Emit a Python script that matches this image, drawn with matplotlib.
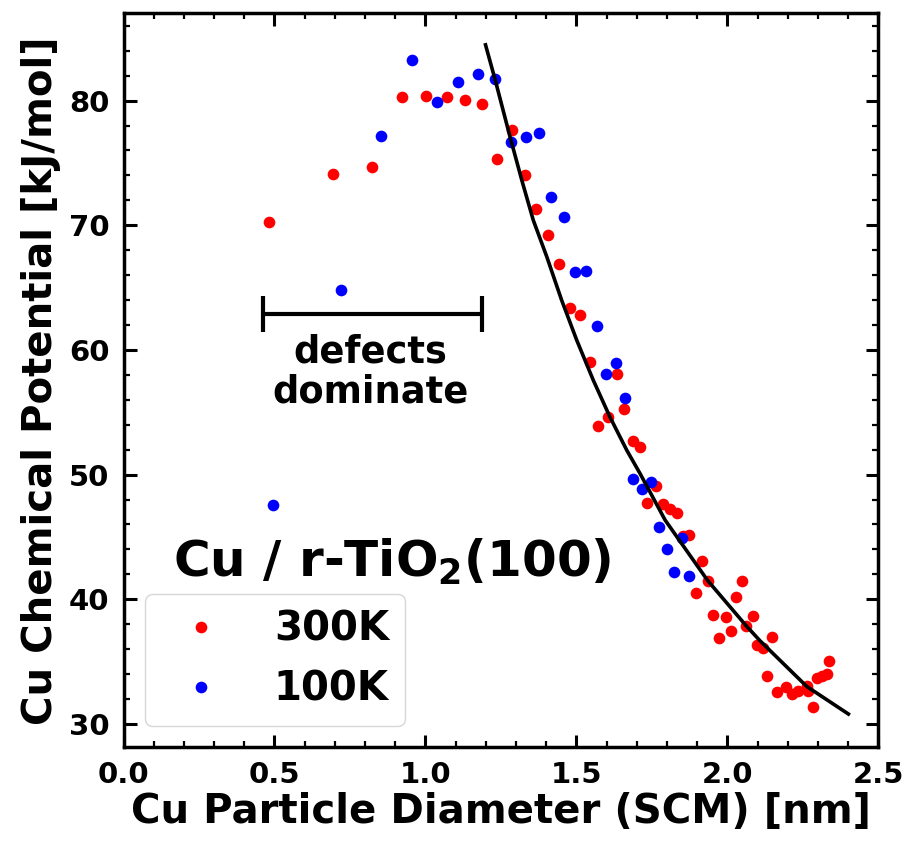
import matplotlib
matplotlib.use('Agg')
import matplotlib.pyplot as plt
from matplotlib.ticker import MultipleLocator

# Cu particle diameter [nm] / chemical potential [kJ/mol], 300K run
d300 = [0.483, 0.695, 0.824, 0.921, 1.002, 1.072, 1.132, 1.188, 1.286, 1.237,
        1.330, 1.366, 1.407, 1.444, 1.479, 1.512, 1.545, 1.634, 1.659, 1.606,
        1.573, 1.687, 1.712, 1.763, 1.733, 1.786, 1.810, 1.832, 1.854, 1.874,
        1.915, 1.935, 1.895, 2.050, 2.029, 1.954, 1.995, 2.084, 2.062, 2.011,
        1.974, 2.149, 2.097, 2.117, 2.130, 2.164, 2.193, 2.213, 2.235, 2.263,
        2.268, 2.285, 2.296, 2.313, 2.329, 2.338]
mu300 = [70.23, 74.11, 74.67, 80.32, 80.40, 80.27, 80.03, 79.71, 77.65, 75.29,
         74.01, 71.33, 69.24, 66.88, 63.33, 62.79, 59.04, 58.10, 55.29, 54.62,
         53.90, 52.67, 52.21, 49.08, 47.71, 47.61, 47.26, 46.96, 45.11, 45.17,
         43.11, 41.50, 40.48, 41.50, 40.22, 38.77, 38.55, 38.63, 37.89, 37.49,
         36.87, 36.95, 36.36, 36.10, 33.87, 32.53, 32.93, 32.40, 32.67, 33.01,
         32.67, 31.33, 33.65, 33.85, 34.01, 35.08]

# 100K run
d100 = [0.495, 0.720, 0.853, 0.955, 1.038, 1.109, 1.173, 1.231, 1.283, 1.332,
        1.375, 1.417, 1.458, 1.496, 1.532, 1.567, 1.631, 1.598, 1.661, 1.689,
        1.716, 1.747, 1.773, 1.799, 1.851, 1.823, 1.873]
mu100 = [47.6, 64.82, 77.14, 83.27, 79.87, 81.45, 82.17, 81.74, 76.66, 77.06,
         77.38, 72.24, 70.68, 66.22, 66.32, 61.93, 58.93, 58.05, 56.14, 49.61,
         48.81, 49.40, 45.81, 44.05, 44.93, 42.22, 41.90]

# fit line, points
fit_d = [1.199, 1.231, 1.280, 1.319, 1.357, 1.402, 1.451, 1.501, 1.556, 1.611,
         1.667, 1.711, 1.794, 1.935, 2.062, 2.108, 2.263, 2.401]
fit_mu = [84.47, 81.66, 77.11, 73.63, 70.42, 67.47, 64.00, 60.79, 57.57, 54.63,
          51.95, 50.08, 46.35, 41.50, 37.89, 36.68, 33.01, 30.80]

plt.rcParams['font.family'] = 'DejaVu Sans'
plt.rcParams['font.weight'] = 'bold'
plt.rcParams['mathtext.default'] = 'bf'

fig = plt.figure(figsize=(9.11, 8.41), dpi=100)
ax = fig.add_axes([0.1356, 0.1114, 0.8285, 0.8728])

ax.plot(d300, mu300, 'o', color='#ff0000', ms=8.4, mec='none', label='300K')
ax.plot(d100, mu100, 'o', color='#0000ff', ms=8.4, mec='none', label='100K')
ax.plot(fit_d, fit_mu, '-', color='k', lw=2.6)

# "defects dominate" range bar
ax.errorbar(0.826, 62.92, xerr=0.363, fmt='none', ecolor='k',
            elinewidth=3, capsize=13, capthick=3)
ax.text(0.819, 58.2, 'defects\ndominate', ha='center', va='center',
        fontsize=26.5, fontweight='bold', linespacing=1.1)

ax.text(0.066, 0.232, 'Cu / r-TiO$_2$(100)', transform=ax.transAxes,
        fontsize=36, fontweight='bold', va='baseline')

ax.set_xlim(0, 2.5)
ax.set_ylim(28.13, 87.0)
ax.xaxis.set_major_locator(MultipleLocator(0.5))
ax.xaxis.set_minor_locator(MultipleLocator(0.1))
ax.yaxis.set_major_locator(MultipleLocator(10))
ax.yaxis.set_minor_locator(MultipleLocator(2))
ax.tick_params(which='both', direction='in', top=True, right=True)
ax.tick_params(which='major', length=9, width=2.2, labelsize=21, pad=10)
ax.tick_params(which='minor', length=4, width=1.6)
for s in ax.spines.values():
    s.set_linewidth(2.5)

ax.set_xlabel('Cu Particle Diameter (SCM) [nm]', fontsize=29, fontweight='bold',
              labelpad=2)
ax.set_ylabel('Cu Chemical Potential [kJ/mol]', fontsize=29, fontweight='bold',
              labelpad=6)

ax.legend(loc='lower left', bbox_to_anchor=(0.0285, 0.029), borderaxespad=0,
          prop={'weight': 'bold', 'size': 29})

fig.savefig('out.png', dpi=100)
